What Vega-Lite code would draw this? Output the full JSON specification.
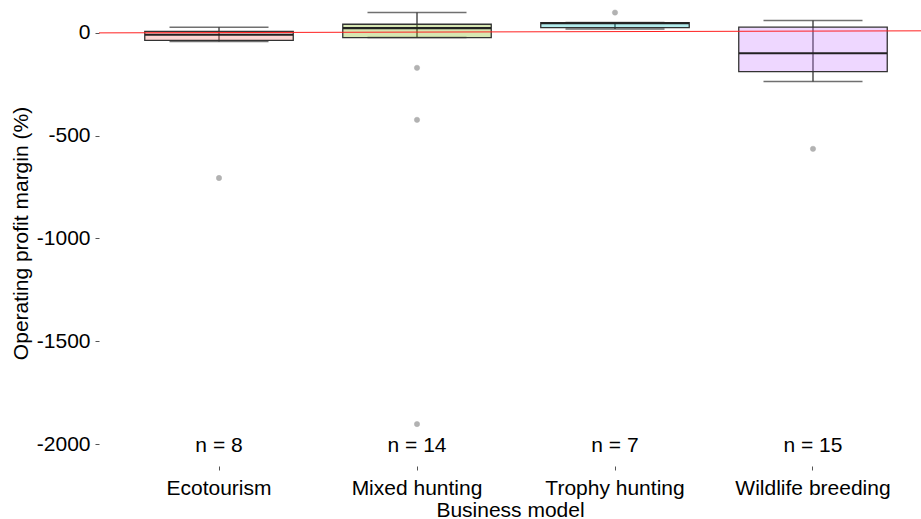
{
  "$schema": "https://vega.github.io/schema/vega-lite/v6.json",
  "autosize": {"type": "none"},
  "padding": {"left": 99, "top": 0, "right": 0, "bottom": 53},
  "width": 822,
  "height": 466,
  "background": "white",
  "config": {
    "view": {"stroke": null},
    "font": "Liberation Sans",
    "axis": {"grid": false, "domain": false, "tickColor": "#555", "tickSize": 4, "labelFontSize": 21, "titleFontSize": 21, "labelColor": "#000", "titleColor": "#000", "titleFontWeight": "normal", "labelFont": "Liberation Sans", "titleFont": "Liberation Sans"}
  },
  "datasets": {
    "boxes": [
      {"model": "Ecotourism", "lower": -42, "q1": -36, "median": -9, "q3": 7, "upper": 27, "n": "n = 8"},
      {"model": "Mixed hunting", "lower": -23, "q1": -23, "median": 23, "q3": 42, "upper": 99, "n": "n = 14"},
      {"model": "Trophy hunting", "lower": 19, "q1": 26, "median": 47, "q3": 50, "upper": 50, "n": "n = 7"},
      {"model": "Wildlife breeding", "lower": -237, "q1": -188, "median": -99, "q3": 28, "upper": 60, "n": "n = 15"}
    ],
    "outliers": [
      {"model": "Ecotourism", "value": -706},
      {"model": "Mixed hunting", "value": -170},
      {"model": "Mixed hunting", "value": -423},
      {"model": "Mixed hunting", "value": -1903},
      {"model": "Trophy hunting", "value": 99},
      {"model": "Wildlife breeding", "value": -564}
    ],
    "refline": [
      {"pos": 0, "margin": 0},
      {"pos": 1, "margin": 10}
    ]
  },
  "layer": [
    {
      "layer": [
        {
          "data": {"name": "boxes"},
          "mark": {"type": "rule", "color": "#333", "strokeWidth": 1.3},
          "encoding": {
            "x": {"field": "model", "type": "nominal"},
            "y": {"field": "lower", "type": "quantitative"},
            "y2": {"field": "upper"}
          }
        },
        {
          "data": {"name": "boxes"},
          "mark": {"type": "tick", "color": "#333", "size": 99, "thickness": 1.5, "orient": "horizontal"},
          "encoding": {
            "x": {"field": "model", "type": "nominal"},
            "y": {"field": "upper", "type": "quantitative"}
          }
        },
        {
          "data": {"name": "boxes"},
          "mark": {"type": "tick", "color": "#333", "size": 99, "thickness": 1.5, "orient": "horizontal"},
          "encoding": {
            "x": {"field": "model", "type": "nominal"},
            "y": {"field": "lower", "type": "quantitative"}
          }
        },
        {
          "data": {"name": "boxes"},
          "mark": {"type": "bar", "width": {"band": 0.75}, "stroke": "#333", "strokeWidth": 1.3, "fillOpacity": 0.3},
          "encoding": {
            "x": {"field": "model", "type": "nominal"},
            "y": {"field": "q1", "type": "quantitative"},
            "y2": {"field": "q3"},
            "fill": {"field": "model", "type": "nominal", "legend": null,
              "scale": {"domain": ["Ecotourism", "Mixed hunting", "Trophy hunting", "Wildlife breeding"], "range": ["#F8766D", "#7CAE00", "#00BFC4", "#C77CFF"]}}
          }
        },
        {
          "data": {"name": "boxes"},
          "mark": {"type": "tick", "color": "#222", "size": 148, "thickness": 2.2, "orient": "horizontal", "opacity": 1},
          "encoding": {
            "x": {"field": "model", "type": "nominal"},
            "y": {"field": "median", "type": "quantitative"}
          }
        },
        {
          "data": {"name": "outliers"},
          "mark": {"type": "circle", "color": "#808080", "opacity": 0.6, "size": 28, "stroke": "#777", "strokeWidth": 0.5},
          "encoding": {
            "x": {"field": "model", "type": "nominal"},
            "y": {"field": "value", "type": "quantitative"}
          }
        },
        {
          "data": {"name": "boxes"},
          "mark": {"type": "text", "fontSize": 21, "color": "#000", "baseline": "middle", "font": "Liberation Sans"},
          "encoding": {
            "x": {"field": "model", "type": "nominal"},
            "y": {"datum": -2010, "type": "quantitative"},
            "text": {"field": "n"}
          }
        }
      ],
      "encoding": {
        "x": {
          "field": "model", "type": "nominal",
          "scale": {"type": "band", "paddingInner": 0, "paddingOuter": 0.0758, "align": 0.7},
          "axis": {"title": "Business model", "labelAngle": 0, "labelPadding": 7, "titlePadding": 1, "tickSize": 4}
        },
        "y": {
          "type": "quantitative",
          "scale": {"domain": [-2107, 160], "nice": false, "zero": false},
          "axis": {"title": "Operating profit margin (%)", "values": [0, -500, -1000, -1500, -2000], "labelExpr": "datum.value == 0 ? '0' : '-' + abs(datum.value)", "labelPadding": 5, "titlePadding": 5}
        }
      }
    },
    {
      "data": {"name": "refline"},
      "mark": {"type": "line", "color": "#ff2020", "strokeWidth": 1},
      "encoding": {
        "x": {"field": "pos", "type": "quantitative", "scale": {"domain": [0, 1], "nice": false, "zero": false}, "axis": null},
        "y": {"field": "margin", "type": "quantitative"}
      }
    }
  ],
  "resolve": {"scale": {"x": "independent"}}
}
